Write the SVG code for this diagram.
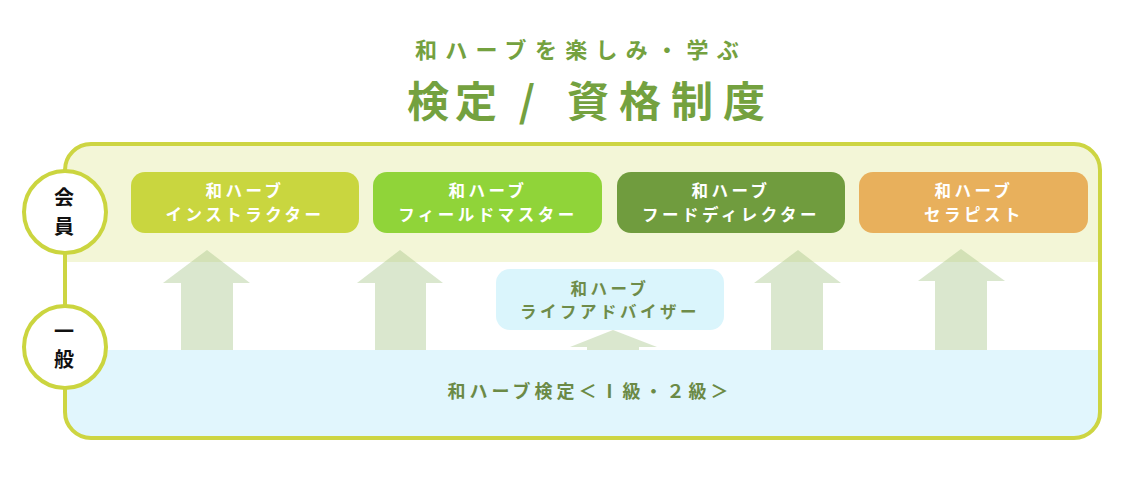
<svg xmlns="http://www.w3.org/2000/svg" width="1136" height="493" viewBox="0 0 1136 493">
<style>
text{font-family:"Noto Sans CJK JP","Noto Sans",sans-serif;font-weight:bold}
.title{fill:#74a13f}
.card{fill:#fff;font-size:16.5px;letter-spacing:3.5px;text-anchor:middle}
.adv{fill:#6e8c4a;font-size:16.5px;letter-spacing:3.5px;text-anchor:middle}
.lvl{fill:#111;font-size:20px;text-anchor:middle}
.arrow{fill:#a3c284;fill-opacity:0.4}
.ring{fill:#fff;stroke:#cbd53f;stroke-width:4}
</style>
<defs>
<clipPath id="frameClip"><rect x="65" y="144" width="1035" height="294" rx="26"/></clipPath>
</defs>
<rect width="1136" height="493" fill="#fff"/>
<g id="title">
<text class="title" x="415" y="58" font-size="22" letter-spacing="8.3">和ハーブを楽しみ・学ぶ</text>
<text class="title" x="407" y="117" font-size="42" letter-spacing="6">検定</text>
<text class="title" x="527" y="117" font-size="42" text-anchor="middle">/</text>
<text class="title" x="567" y="117" font-size="42" letter-spacing="10">資格制度</text>
</g>
<g id="frame-bg" clip-path="url(#frameClip)">
<rect x="60" y="140" width="1045" height="122" fill="#f3f6d7"/>
<rect x="60" y="350" width="1045" height="95" fill="#e1f6fd"/>
</g>
<g id="connectors">
<polygon class="arrow" points="207,250 250,283 233,283 233,350 181,350 181,283 163,283"/>
<polygon class="arrow" points="400,250 443,283 426,283 426,350 375,350 375,283 357,283"/>
<polygon class="arrow" points="613,330 657,347 639,347 639,350 587,350 587,347 570,347"/>
<polygon class="arrow" points="798,250 841,283 823,283 823,350 771,350 771,283 754,283"/>
<polygon class="arrow" points="961,249 1005,281 987,281 987,350 935,350 935,281 918,281"/>
</g>
<rect id="frame" x="65" y="144" width="1035" height="294" rx="26" fill="none" stroke="#cdd542" stroke-width="4"/>
<g id="instructor">
<rect x="131" y="172" width="228" height="61" rx="14" fill="#c9d63f"/>
<text class="card" x="245" y="197">和ハーブ</text>
<text class="card" x="245" y="221">インストラクター</text>
</g>
<g id="fieldmaster">
<rect x="373" y="172" width="229" height="61" rx="14" fill="#90d439"/>
<text class="card" x="488" y="197">和ハーブ</text>
<text class="card" x="488" y="221">フィールドマスター</text>
</g>
<g id="director">
<rect x="617" y="172" width="228" height="61" rx="14" fill="#709c3e"/>
<text class="card" x="731" y="197">和ハーブ</text>
<text class="card" x="731" y="221">フードディレクター</text>
</g>
<g id="therapist">
<rect x="859" y="172" width="229" height="61" rx="14" fill="#e8b05c"/>
<text class="card" x="974" y="197">和ハーブ</text>
<text class="card" x="974" y="221">セラピスト</text>
</g>
<g id="advisor">
<rect x="496" y="269" width="228" height="61" rx="14" fill="#daf5fc"/>
<text class="adv" x="610" y="295">和ハーブ</text>
<text class="adv" x="610" y="318">ライフアドバイザー</text>
</g>
<g id="kentei">
<text x="590" y="398" font-size="18" letter-spacing="4" text-anchor="middle" fill="#6b8a46">和ハーブ検定＜Ⅰ級・２級＞</text>
</g>
<g id="member">
<circle class="ring" cx="65" cy="212" r="41"/>
<text class="lvl" x="64" y="205">会</text>
<text class="lvl" x="64" y="234">員</text>
</g>
<g id="general">
<circle class="ring" cx="65" cy="347" r="41"/>
<text class="lvl" x="64" y="339">一</text>
<text class="lvl" x="64" y="367">般</text>
</g>
</svg>
